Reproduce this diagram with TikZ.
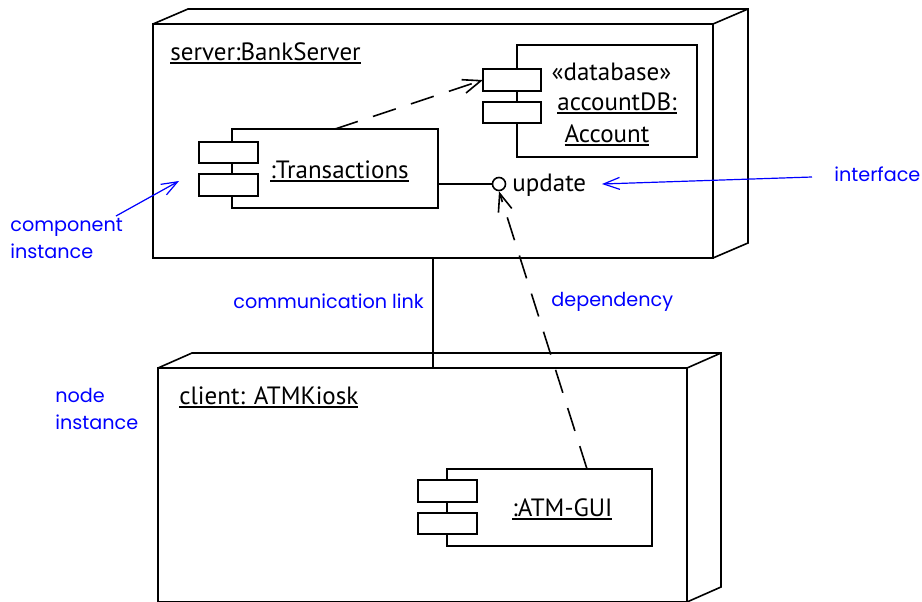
\documentclass[tikz,border=0pt]{standalone}
\usepackage{fontspec}
\setmainfont{PT Sans}
\newfontfamily\notefont{Poppins}
\usetikzlibrary{arrows.meta}
\newcommand\myul[1]{\setbox0\hbox{#1}\rlap{\rule[-2.2pt]{\wd0}{1pt}}#1}
\tikzset{
  box/.style={draw=black, line width=0.8pt, fill=white, inner sep=0pt, outer sep=0pt},
  port/.style={box, minimum width=29.5pt, minimum height=10.5pt},
  lbl/.style={inner sep=0pt, font=\fontsize{12.5}{14}\selectfont},
  note/.style={inner sep=0pt, text=blue, font=\notefont\fontsize{9.6}{13.5}\selectfont, align=left},
  notearrow/.style={draw=blue, line width=0.6pt, -{Straight Barb[length=8pt,width=6pt]}},
  dep/.style={draw=black, line width=0.8pt, dash pattern=on 12pt off 8pt, -{Straight Barb[length=9pt,width=7pt]}},
  edge3d/.style={draw=black, line width=0.8pt, line join=miter}
}
\begin{document}
\begin{tikzpicture}[x=0.5pt,y=-0.5pt]
\useasboundingbox (0,0) rectangle (922,601);
% server node
\node[box, minimum width=280pt, minimum height=117pt] (server) at (433,141) {};
\draw[edge3d] (server.north west) -- ++(35,-15) -- ++(560,0) -- ++(0,234) -- (server.south east);
\draw[edge3d] (server.north east) -- ++(35,-15);
\node[lbl, anchor=base west] (serverlbl) at (170,60) {\myul{server:BankServer}};
% client node
\node[box, minimum width=264.5pt, minimum height=117pt] (client) at (422.5,485) {};
\draw[edge3d] (client.north west) -- ++(34,-15) -- ++(529,0) -- ++(0,234) -- (client.south east);
\draw[edge3d] (client.north east) -- ++(34,-15);
\node[lbl, anchor=base west] (clientlbl) at (179,404) {\myul{client: ATMKiosk}};
% Transactions component
\node[box, minimum width=103pt, minimum height=39.5pt] (trans) at (335,168.5) {};
\node[port] (transp1) at (228.5,152.5) {};
\node[port, minimum height=11pt] (transp2) at (228.5,185) {};
\node[lbl, anchor=base west] (translbl) at (270,178) {\myul{:Transactions}};
% database component
\node[box, minimum width=90pt, minimum height=56pt] (db) at (607,101) {};
\node[port, minimum width=29pt, minimum height=11pt] (dbp1) at (512,80) {};
\node[port, minimum width=29pt] (dbp2) at (512,112.5) {};
\node[lbl, anchor=base] (dbst) at (611.5,80) {«database»};
\node[lbl, anchor=base] (dbname) at (617,110) {\myul{accountDB:}};
\node[lbl, anchor=base] (dbtype) at (607,142) {\myul{Account}};
% ATM-GUI component
\node[box, minimum width=102.5pt, minimum height=38.5pt] (gui) at (549.5,507.5) {};
\node[port, minimum height=11pt] (guip1) at (447.5,491) {};
\node[port] (guip2) at (447.5,523.5) {};
\node[lbl, anchor=base west] (guilbl) at (512,516) {\myul{:ATM-GUI}};
% interface lollipop
\node[draw=black, line width=0.8pt, fill=white, circle, minimum size=6.5pt, inner sep=0pt] (iface) at (499,184) {};
\draw[line width=0.8pt] (trans.east |- iface) -- (iface.west);
\node[lbl, anchor=base west] (ifacelbl) at (512,191) {update};
% communication link
\coordinate (linktop) at (433,258);
\coordinate (linkbot) at (433,368);
\draw[line width=0.8pt] (server.south -| linktop) -- (client.north -| linkbot);
% dependencies
\coordinate (dep1start) at (335,129);
\draw[dep] (dep1start) -- (dbp1.west);
\coordinate (dep2start) at (587,469);
\draw[dep] (dep2start) -- (iface.south);
% annotations
\node[note, anchor=west] (nInterface) at (834,174) {interface};
\coordinate (nInterfaceArrow) at (812,177);
\coordinate (nInterfaceTip) at (602,184);
\draw[notearrow] (nInterfaceArrow) -- (nInterfaceTip);
\node[note, anchor=north west] (nComp) at (10,218) {component\\instance};
\coordinate (nCompArrow) at (116,216);
\coordinate (nCompTip) at (179,181);
\draw[notearrow] (nCompArrow) -- (nCompTip);
\node[note, anchor=base west] (nLink) at (233,308) {communication link};
\node[note, anchor=base west] (nDep) at (551,306) {dependency};
\node[note, anchor=north west] (nNode) at (55,388) {node\\instance};
\end{tikzpicture}
\end{document}
